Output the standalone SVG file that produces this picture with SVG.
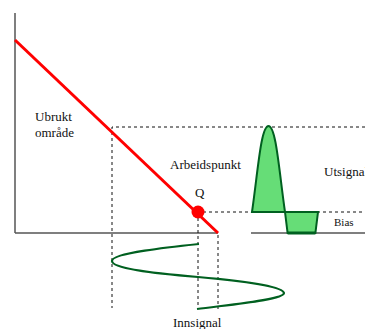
<svg xmlns="http://www.w3.org/2000/svg" width="365" height="329" viewBox="0 0 365 329">
<style>
.t{font-family:"Liberation Serif","Times New Roman",serif;font-size:13px;fill:#111}
.ax{stroke:#555;stroke-width:1.5;fill:none}
.d{stroke:#111;stroke-width:1;stroke-dasharray:3 3;fill:none}
.sig{stroke:#006020;stroke-width:2.2;fill:none}
.out{fill:#66dd77;stroke:#006020;stroke-width:2}
</style>
<rect width="365" height="329" fill="#fff"/>
<g id="axes">
<line class="ax" x1="15" y1="13" x2="15" y2="233"/>
<line class="ax" x1="15" y1="233" x2="218" y2="233"/>
<line class="ax" x1="251" y1="233" x2="365" y2="233"/>
</g>
<g id="guides">
<polyline class="d" points="365,127 112,127 112,308"/>
<line class="d" x1="203" y1="212" x2="365" y2="212"/>
<line class="d" x1="198" y1="218" x2="198" y2="309"/>
<line class="d" x1="218" y1="235" x2="218" y2="309"/>
</g>
<g id="loadline">
<line x1="15" y1="40" x2="218" y2="233" stroke="#ff0000" stroke-width="3"/>
</g>
<g id="Q">
<circle cx="198" cy="212" r="6.5" fill="#ff0000"/>
<text class="t" x="195" y="197">Q</text>
</g>
<g id="innsignal">
<path class="sig" d="M199,244 C170,247 112,253 112,261 C112,268 150,273 198,277 C246,281 283,287 284,293 C284,300 226,305 197,309"/>
<text class="t" x="173" y="327">Innsignal</text>
</g>
<g id="utsignal">
<path class="out" d="M252,212 C258,170 261,126 268.5,126 C276,126 279,170 285,212 Z"/>
<path class="out" d="M285,212 L287.6,233 L315.4,233 L318,212 Z"/>
<line x1="287.6" y1="233" x2="315.4" y2="233" stroke="#006020" stroke-width="3"/>
<text class="t" x="324" y="176">Utsignal</text>
<text class="t" x="334" y="226" style="font-size:11px">Bias</text>
</g>
<g id="labels">
<text class="t" x="35" y="121">Ubrukt</text>
<text class="t" x="35" y="137">område</text>
<text class="t" x="170" y="169">Arbeidspunkt</text>
</g>
</svg>
